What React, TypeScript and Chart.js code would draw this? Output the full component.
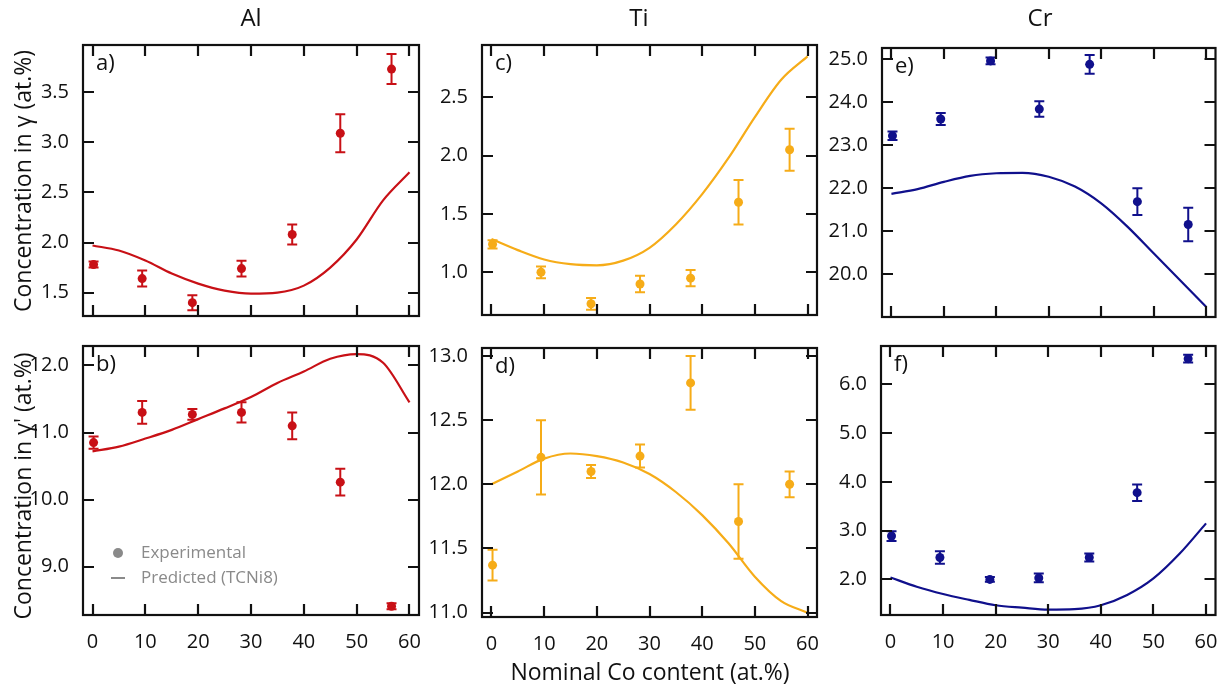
import React, { useEffect, useRef } from "react";
import { Chart, registerables } from "chart.js";

Chart.register(...registerables);
Chart.defaults.font.family = "'Open Sans', 'Noto Sans', sans-serif";

// ---------- data ----------
const CO_CONTENT = [0.2, 9.4, 18.9, 28.2, 37.8, 46.9, 56.6];
const PRED_CO = [0, 5, 10, 15, 20, 25, 30, 35, 40, 45, 50, 55, 60];
const X_TICKS = [0, 10, 20, 30, 40, 50, 60];

const AL_GAMMA_EXP = [1.78, 1.64, 1.4, 1.74, 2.08, 3.09, 3.73];
const AL_GAMMA_ERR = [0.03, 0.08, 0.075, 0.078, 0.1, 0.19, 0.15];
const AL_GAMMA_PRED = [1.97, 1.92, 1.82, 1.69, 1.59, 1.52, 1.49, 1.5, 1.57, 1.75, 2.03, 2.42, 2.7];
const AL_GAMMA_TICKS = [1.5, 2.0, 2.5, 3.0, 3.5];

const AL_GP_EXP = [10.85, 11.3, 11.27, 11.3, 11.1, 10.26, 8.41];
const AL_GP_ERR = [0.09, 0.17, 0.08, 0.15, 0.2, 0.2, 0.045];
const AL_GP_PRED = [10.72, 10.79, 10.91, 11.04, 11.2, 11.36, 11.53, 11.74, 11.91, 12.1, 12.17, 12.04, 11.45];
const AL_GP_TICKS = [9.0, 10.0, 11.0, 12.0];

const TI_GAMMA_EXP = [1.24, 1.0, 0.73, 0.9, 0.95, 1.6, 2.05];
const TI_GAMMA_ERR = [0.035, 0.05, 0.05, 0.07, 0.07, 0.19, 0.18];
const TI_GAMMA_PRED = [1.285, 1.19, 1.11, 1.07, 1.06, 1.1, 1.21, 1.41, 1.67, 1.98, 2.33, 2.65, 2.85];
const TI_GAMMA_TICKS = [1.0, 1.5, 2.0, 2.5];

const TI_GP_EXP = [11.37, 12.21, 12.1, 12.22, 12.79, 11.71, 12.0];
const TI_GP_ERR = [0.12, 0.29, 0.05, 0.09, 0.21, 0.29, 0.1];
const TI_GP_PRED = [12.0, 12.1, 12.2, 12.24, 12.22, 12.17, 12.08, 11.94, 11.76, 11.54, 11.28, 11.09, 11.0];
const TI_GP_TICKS = [11.0, 11.5, 12.0, 12.5, 13.0];

const CR_GAMMA_EXP = [23.22, 23.61, 24.96, 23.84, 24.88, 21.69, 21.16];
const CR_GAMMA_ERR = [0.1, 0.14, 0.08, 0.18, 0.22, 0.31, 0.39];
const CR_GAMMA_PRED = [21.87, 21.98, 22.15, 22.29, 22.35, 22.36, 22.27, 22.04, 21.65, 21.11, 20.49, 19.87, 19.25];
const CR_GAMMA_TICKS = [20.0, 21.0, 22.0, 23.0, 24.0, 25.0];

const CR_GP_EXP = [2.89, 2.45, 2.0, 2.03, 2.45, 3.78, 6.53];
const CR_GP_ERR = [0.1, 0.13, 0.05, 0.09, 0.08, 0.17, 0.08];
const CR_GP_PRED = [2.04, 1.85, 1.7, 1.58, 1.47, 1.42, 1.38, 1.39, 1.47, 1.68, 2.02, 2.53, 3.15];
const CR_GP_TICKS = [2.0, 3.0, 4.0, 5.0, 6.0];

// ---------- styling / layout ----------
const RED = "rgb(200,16,22)";
const ORANGE = "rgb(246,172,24)";
const NAVY = "rgb(16,16,140)";
const W = 1220;
const H = 687;
const YW = 60;
const XH = 40;

type PanelCfg = {
  label: string;
  color: string;
  exp: number[];
  err: number[];
  pred: number[];
  yTicks: number[];
  yMin: number;
  yMax: number;
  L: number; R: number; T: number; B: number;
  showX: boolean;
};

const PANELS: PanelCfg[] = [
  { label: "a)", color: RED, exp: AL_GAMMA_EXP, err: AL_GAMMA_ERR, pred: AL_GAMMA_PRED, yTicks: AL_GAMMA_TICKS, yMin: 1.267, yMax: 3.97, L: 83, R: 419, T: 45, B: 316, showX: false },
  { label: "b)", color: RED, exp: AL_GP_EXP, err: AL_GP_ERR, pred: AL_GP_PRED, yTicks: AL_GP_TICKS, yMin: 8.28, yMax: 12.29, L: 83, R: 419, T: 346, B: 615, showX: true },
  { label: "c)", color: ORANGE, exp: TI_GAMMA_EXP, err: TI_GAMMA_ERR, pred: TI_GAMMA_PRED, yTicks: TI_GAMMA_TICKS, yMin: 0.634, yMax: 2.948, L: 482, R: 817, T: 45, B: 315, showX: false },
  { label: "d)", color: ORANGE, exp: TI_GP_EXP, err: TI_GP_ERR, pred: TI_GP_PRED, yTicks: TI_GP_TICKS, yMin: 10.966, yMax: 13.062, L: 482, R: 817, T: 348, B: 617, showX: true },
  { label: "e)", color: NAVY, exp: CR_GAMMA_EXP, err: CR_GAMMA_ERR, pred: CR_GAMMA_PRED, yTicks: CR_GAMMA_TICKS, yMin: 19.01, yMax: 25.26, L: 882, R: 1218, T: 48, B: 317, showX: false },
  { label: "f)", color: NAVY, exp: CR_GP_EXP, err: CR_GP_ERR, pred: CR_GP_PRED, yTicks: CR_GP_TICKS, yMin: 1.27, yMax: 6.79, L: 881, R: 1217, T: 346, B: 615, showX: true },
];

const framePlugin = {
  id: "frameTicks",
  beforeDatasetsDraw(chart: any) {
    const ctx = chart.ctx;
    const y = chart.scales.y;
    const ds = chart.data.datasets[0];
    const err: number[] = ds.errors;
    ctx.save();
    ctx.strokeStyle = ds.backgroundColor;
    ctx.lineWidth = 2;
    ds.data.forEach((p: any, i: number) => {
      const xp = chart.scales.x.getPixelForValue(p.x);
      const y1 = y.getPixelForValue(p.y - err[i]);
      const y2 = y.getPixelForValue(p.y + err[i]);
      ctx.beginPath();
      ctx.moveTo(xp, y1);
      ctx.lineTo(xp, y2);
      ctx.moveTo(xp - 5, y1);
      ctx.lineTo(xp + 5, y1);
      ctx.moveTo(xp - 5, y2);
      ctx.lineTo(xp + 5, y2);
      ctx.stroke();
    });
    ctx.restore();
  },
  afterDraw(chart: any) {
    const ctx = chart.ctx;
    const { left, right, top, bottom } = chart.chartArea;
    const tl = 11;
    ctx.save();
    ctx.strokeStyle = "#111";
    ctx.lineWidth = 2.2;
    ctx.strokeRect(left, top, right - left, bottom - top);
    ctx.beginPath();
    chart.scales.x.ticks.forEach((t: any) => {
      const xp = Math.round(chart.scales.x.getPixelForValue(t.value));
      ctx.moveTo(xp, top);
      ctx.lineTo(xp, top + tl);
      ctx.moveTo(xp, bottom);
      ctx.lineTo(xp, bottom - tl);
    });
    chart.scales.y.ticks.forEach((t: any) => {
      const yp = Math.round(chart.scales.y.getPixelForValue(t.value));
      ctx.moveTo(left, yp);
      ctx.lineTo(left + tl, yp);
      ctx.moveTo(right, yp);
      ctx.lineTo(right - tl, yp);
    });
    ctx.stroke();
    ctx.restore();
  },
};

function Panel({ cfg }: { cfg: PanelCfg }) {
  const ref = useRef<HTMLCanvasElement | null>(null);
  useEffect(() => {
    if (!ref.current) return;
    const xh = cfg.showX ? XH : 0;
    const chart = new Chart(ref.current, {
      type: "scatter",
      data: {
        datasets: [
          {
            label: "Experimental",
            data: CO_CONTENT.map((x, i) => ({ x, y: cfg.exp[i] })),
            errors: cfg.err,
            backgroundColor: cfg.color,
            borderColor: cfg.color,
            pointRadius: 4.5,
            pointBorderWidth: 0,
            showLine: false,
          } as any,
          {
            label: "Predicted (TCNi8)",
            data: PRED_CO.map((x, i) => ({ x, y: cfg.pred[i] })),
            borderColor: cfg.color,
            backgroundColor: cfg.color,
            borderWidth: 2.2,
            pointRadius: 0,
            showLine: true,
            cubicInterpolationMode: "monotone",
          } as any,
        ],
      },
      options: {
        animation: false,
        responsive: false,
        devicePixelRatio: 1,
        events: [],
        layout: {
          padding: { left: cfg.L - YW, right: W - cfg.R, top: cfg.T, bottom: H - cfg.B - xh },
        },
        plugins: { legend: { display: false }, tooltip: { enabled: false } },
        scales: {
          x: {
            type: "linear",
            min: -1.8,
            max: 61.8,
            grid: { display: false },
            border: { display: false },
            ticks: {
              display: cfg.showX,
              autoSkip: false,
              maxRotation: 0,
              padding: 7,
              color: "#111",
              font: { size: 20 },
              callback: (v: any) => String(v),
            },
            afterBuildTicks: (s: any) => {
              s.ticks = X_TICKS.map((v) => ({ value: v }));
            },
            afterFit: (s: any) => {
              s.height = xh;
              s.paddingLeft = 0;
              s.paddingRight = 0;
            },
          },
          y: {
            type: "linear",
            min: cfg.yMin,
            max: cfg.yMax,
            grid: { display: false },
            border: { display: false },
            ticks: {
              autoSkip: false,
              padding: 6,
              color: "#111",
              font: { size: 20 },
              callback: (v: any) => Number(v).toFixed(1),
            },
            afterBuildTicks: (s: any) => {
              s.ticks = cfg.yTicks.map((v) => ({ value: v }));
            },
            afterFit: (s: any) => {
              s.width = YW;
              s.paddingTop = 0;
              s.paddingBottom = 0;
            },
          },
        },
      },
      plugins: [framePlugin],
    } as any);
    return () => chart.destroy();
  }, [cfg]);
  return (
    <canvas
      ref={ref}
      width={W}
      height={H}
      style={{ position: "absolute", left: 0, top: 0, width: W, height: H, pointerEvents: "none" }}
    />
  );
}

const txt: React.CSSProperties = {
  position: "absolute",
  fontFamily: "'Open Sans', 'Noto Sans', sans-serif",
  color: "#111",
  whiteSpace: "nowrap",
  lineHeight: 1,
};

export default function App() {
  return (
    <div style={{ position: "absolute", left: 0, top: 0, width: W, height: H, background: "#fff", overflow: "hidden" }}>
      {PANELS.map((p) => (
        <Panel key={p.label} cfg={p} />
      ))}
      {PANELS.map((p) => (
        <div key={"l" + p.label} style={{ ...txt, left: p.L + 13, top: p.T + 5, fontSize: 22 }}>
          {p.label}
        </div>
      ))}
      <div style={{ ...txt, left: 251, top: 5, fontSize: 24, transform: "translateX(-50%)" }}>Al</div>
      <div style={{ ...txt, left: 639, top: 5, fontSize: 24, transform: "translateX(-50%)" }}>Ti</div>
      <div style={{ ...txt, left: 1040, top: 5, fontSize: 24, transform: "translateX(-50%)" }}>Cr</div>
      <div style={{ ...txt, left: 650, top: 660, fontSize: 23, transform: "translateX(-50%)" }}>
        Nominal Co content (at.%)
      </div>
      <div style={{ ...txt, left: 22, top: 181, fontSize: 23, transform: "translate(-50%,-50%) rotate(-90deg)" }}>
        Concentration in γ (at.%)
      </div>
      <div style={{ ...txt, left: 22, top: 486, fontSize: 23, transform: "translate(-50%,-50%) rotate(-90deg)" }}>
        Concentration in γ' (at.%)
      </div>
      <div style={{ position: "absolute", left: 113, top: 548, width: 10, height: 10, borderRadius: 5, background: "#8a8a8a" }} />
      <div style={{ position: "absolute", left: 111, top: 577, width: 14, height: 2, background: "#8a8a8a" }} />
      <div style={{ ...txt, left: 141, top: 543, fontSize: 17, color: "#8a8a8a" }}>Experimental</div>
      <div style={{ ...txt, left: 141, top: 568, fontSize: 17, color: "#8a8a8a" }}>Predicted (TCNi8)</div>
    </div>
  );
}
